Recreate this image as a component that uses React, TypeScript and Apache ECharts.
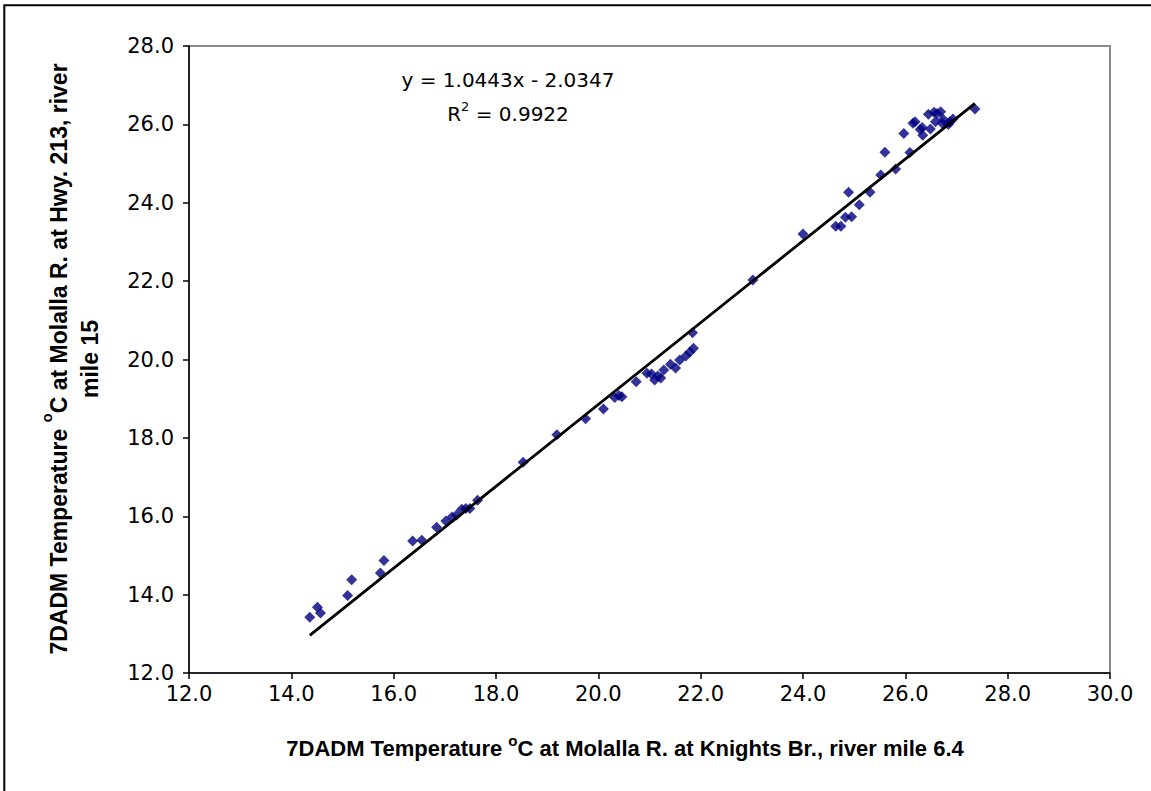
import React, { useEffect, useRef } from "react";
import * as echarts from "echarts";

// Knights Br. (river mile 6.4) 7DADM temperature, °C
const xKnights: number[] = [
  14.36, 14.51, 14.57, 15.10, 15.18, 15.74, 15.81, 16.37, 16.55, 16.84,
  17.02, 17.14, 17.23, 17.33, 17.41, 17.49, 17.64, 18.53, 19.19, 19.75,
  20.10, 20.32, 20.40, 20.46, 20.74, 20.95, 21.04, 21.10, 21.16, 21.22,
  21.28, 21.41, 21.51, 21.59, 21.71, 21.79, 21.86, 21.84, 23.02, 24.00,
  24.64, 24.74, 24.83, 24.95, 24.89, 25.10, 25.31, 25.52, 25.60, 25.81,
  25.97, 26.09, 26.15, 26.19, 26.29, 26.33, 26.34, 26.45, 26.49, 26.56,
  26.59, 26.62, 26.69, 26.72, 26.74, 26.84, 26.87, 26.93, 27.36,
];
// Hwy. 213 (river mile 15) 7DADM temperature, °C
const yHwy213: number[] = [
  13.42, 13.68, 13.53, 13.98, 14.38, 14.55, 14.87, 15.37, 15.39, 15.72,
  15.88, 15.98, 16.03, 16.18, 16.20, 16.20, 16.41, 17.38, 18.08, 18.49,
  18.74, 19.03, 19.08, 19.05, 19.43, 19.65, 19.63, 19.48, 19.58, 19.53,
  19.73, 19.88, 19.78, 19.99, 20.09, 20.19, 20.29, 20.68, 22.03, 23.20,
  23.40, 23.40, 23.63, 23.64, 24.27, 23.95, 24.27, 24.71, 25.29, 24.86,
  25.77, 25.28, 26.03, 26.07, 25.87, 25.92, 25.72, 26.26, 25.88, 26.31,
  26.07, 26.28, 26.32, 26.03, 26.13, 26.00, 26.07, 26.14, 26.39,
];

// Linear trend line reported on the chart
const slope = 1.0443;
const intercept = -2.0347;
const rSquared = "0.9922";

const xAxisTicks = { min: 12, max: 30, interval: 2 };
const yAxisTicks = { min: 12, max: 28, interval: 2 };

const xTitleParts = ["7DADM Temperature ", "o", "C at Molalla R. at Knights Br., river mile 6.4"];
const yTitleParts = ["7DADM Temperature ", "o", "C at Molalla R. at Hwy. 213, river", "mile 15"];

export default function App() {
  const ref = useRef<HTMLDivElement>(null);
  useEffect(() => {
    if (!ref.current) return;
    const chart = echarts.init(ref.current, null, { renderer: "svg" });
    const pts = xKnights.map((x, i) => [x, yHwy213[i]]);
    const xmin = Math.min(...xKnights);
    const xmax = Math.max(...xKnights);
    const trend = [
      [xmin, slope * xmin + intercept],
      [xmax, slope * xmax + intercept],
    ];
    const font = "DejaVu Sans";
    const eqFont = "DejaVu Sans";
    const titleFont = "Liberation Sans";
    chart.setOption({
      animation: false,
      backgroundColor: "#fff",
      grid: {
        left: 189,
        right: 41,
        top: 46,
        bottom: 118,
        show: true,
        borderColor: "#8c8c8c",
        borderWidth: 2,
        backgroundColor: "transparent",
      },
      xAxis: {
        type: "value",
        min: xAxisTicks.min,
        max: xAxisTicks.max,
        interval: xAxisTicks.interval,
        axisLine: { show: true, onZero: false, lineStyle: { color: "#000", width: 1.5 } },
        axisTick: { show: true, inside: false, length: 6, lineStyle: { color: "#000", width: 1.5 } },
        splitLine: { show: false },
        axisLabel: {
          color: "#000",
          fontFamily: font,
          fontSize: 21,
          margin: 10,
          formatter: (v: number) => v.toFixed(1),
        },
      },
      yAxis: {
        type: "value",
        min: yAxisTicks.min,
        max: yAxisTicks.max,
        interval: yAxisTicks.interval,
        axisLine: { show: true, onZero: false, lineStyle: { color: "#000", width: 1.5 } },
        axisTick: { show: true, inside: false, length: 6, lineStyle: { color: "#000", width: 1.5 } },
        splitLine: { show: false },
        axisLabel: {
          color: "#000",
          fontFamily: font,
          fontSize: 21,
          margin: 15,
          formatter: (v: number) => v.toFixed(1),
        },
      },
      series: [
        {
          type: "line",
          data: trend,
          symbol: "none",
          lineStyle: { color: "#000", width: 2.8 },
          z: 3,
        },
        {
          type: "scatter",
          data: pts,
          symbol: "diamond",
          symbolSize: 11,
          itemStyle: { color: "#000080" },
          z: 2,
        },
      ],
      graphic: [
        {
          type: "rect",
          shape: { x: 4.3, y: 5.3, width: 1180, height: 820 },
          style: { fill: "none", stroke: "#000", lineWidth: 2 },
          silent: true,
        },
        {
          type: "text",
          x: 508,
          y: 80,
          style: {
            text: `y = ${slope.toFixed(4)}x - ${Math.abs(intercept).toFixed(4)}`,
            font: `20px '${eqFont}'`,
            fill: "#000",
            align: "center",
            verticalAlign: "middle",
          },
        },
        {
          type: "text",
          x: 508,
          y: 112,
          style: {
            text: `{a|R}{s|2}{a| = ${rSquared}}`,
            align: "center",
            verticalAlign: "middle",
            rich: {
              a: { fontFamily: eqFont, fontSize: 20, fill: "#000", lineHeight: 24, verticalAlign: "bottom" },
              s: { fontFamily: eqFont, fontSize: 13, fill: "#000", lineHeight: 24, verticalAlign: "top", padding: [0, 0, 10, 0] },
            },
          },
        },
        {
          type: "text",
          x: 625,
          y: 746,
          style: {
            text: `{a|${xTitleParts[0]}}{s|${xTitleParts[1]}}{a|${xTitleParts[2]}}`,
            align: "center",
            verticalAlign: "middle",
            rich: {
              a: { fontFamily: titleFont, fontWeight: "bold", fontSize: 22, fill: "#000", lineHeight: 26, verticalAlign: "bottom" },
              s: { fontFamily: titleFont, fontWeight: "bold", fontSize: 15, fill: "#000", lineHeight: 26, verticalAlign: "top", padding: [0, 0, 12, 0] },
            },
          },
        },
        {
          type: "text",
          x: 70,
          y: 359,
          rotation: Math.PI / 2,
          style: {
            text: `{a|${yTitleParts[0]}}{s|${yTitleParts[1]}}{a|${yTitleParts[2]}}\n{a|${yTitleParts[3]}}`,
            align: "center",
            verticalAlign: "middle",
            rich: {
              a: { fontFamily: titleFont, fontWeight: "bold", fontSize: 23, fill: "#000", lineHeight: 31, verticalAlign: "bottom", align: "center" },
              s: { fontFamily: titleFont, fontWeight: "bold", fontSize: 15, fill: "#000", lineHeight: 31, verticalAlign: "top", padding: [0, 0, 12, 0] },
            },
          },
        },
      ],
    });
    return () => chart.dispose();
  }, []);
  return (
    <div
      ref={ref}
      style={{ position: "fixed", left: 0, top: 0, width: 1151, height: 791 }}
    />
  );
}
